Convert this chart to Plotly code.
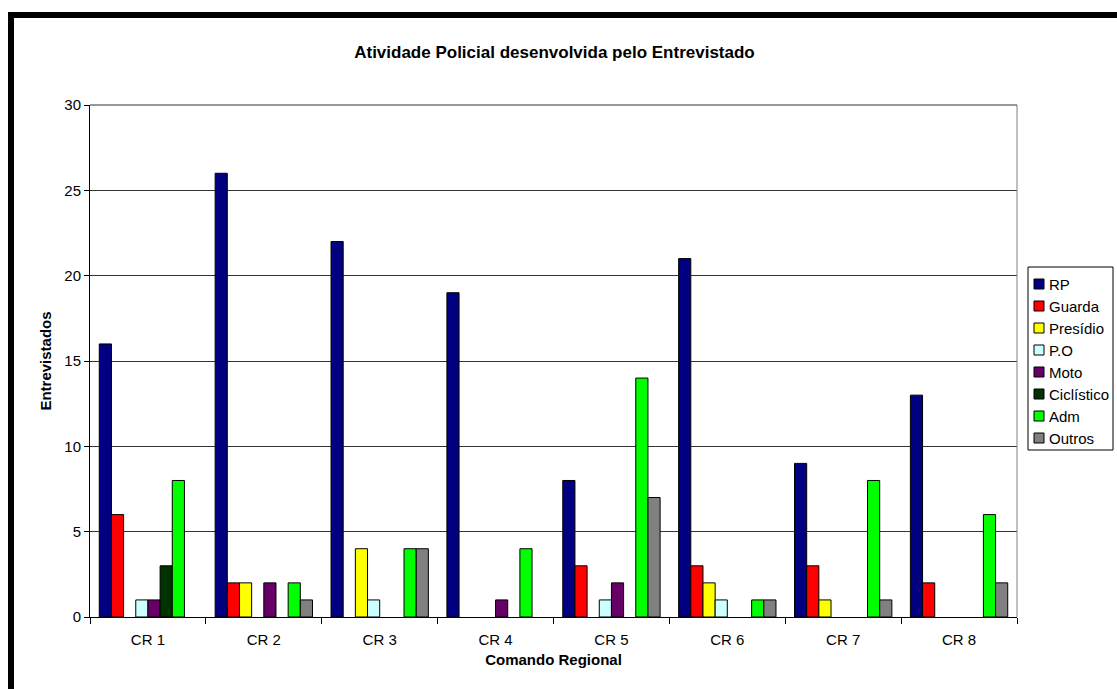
import plotly.graph_objects as go

categories = ["CR 1", "CR 2", "CR 3", "CR 4", "CR 5", "CR 6", "CR 7", "CR 8"]
series_names = ["RP", "Guarda", "Presídio", "P.O", "Moto", "Ciclístico", "Adm", "Outros"]
rp = [16, 26, 22, 19, 8, 21, 9, 13]
guarda = [6, 2, 0, 0, 3, 3, 3, 2]
presidio = [0, 2, 4, 0, 0, 2, 1, 0]
po = [1, 0, 1, 0, 1, 1, 0, 0]
moto = [1, 2, 0, 1, 2, 0, 0, 0]
ciclistico = [3, 0, 0, 0, 0, 0, 0, 0]
adm = [8, 2, 4, 4, 14, 1, 8, 6]
outros = [0, 1, 4, 0, 7, 1, 1, 2]
colors = ["#000080", "#FF0000", "#FFFF00", "#CCFFFF", "#660066", "#003300", "#00FF00", "#808080"]
y_ticks = [0, 5, 10, 15, 20, 25, 30]

series_values = [rp, guarda, presidio, po, moto, ciclistico, adm, outros]

W, H = 1117, 689
L, R, T, B = 90, 1017, 105, 617


def px_x(x):
    return (x - L) / (R - L)


def px_y(y):
    return (B - y) / (B - T)


fig = go.Figure()
for name, vals, col in zip(series_names, series_values, colors):
    fig.add_trace(go.Bar(
        x=categories, y=[v if v != 0 else None for v in vals], name=name,
        marker=dict(color=col, line=dict(color="#000000", width=1)),
        showlegend=False,
    ))

font_family = "Liberation Sans, Arial, sans-serif"

shapes = [
    dict(type="line", xref="paper", yref="paper", x0=1, x1=1, y0=0, y1=1,
         line=dict(color="#808080", width=1)),
    dict(type="line", xref="paper", yref="paper", x0=0, x1=1, y0=1, y1=1,
         line=dict(color="#333333", width=1)),
    # outer chart frame (left and top)
    dict(type="line", xref="paper", yref="paper", x0=px_x(11), x1=px_x(11),
         y0=px_y(H + 5), y1=px_y(12), line=dict(color="#000000", width=6)),
    dict(type="line", xref="paper", yref="paper", x0=px_x(8), x1=px_x(W + 5),
         y0=px_y(15), y1=px_y(15), line=dict(color="#000000", width=6)),
    # legend box
    dict(type="rect", xref="paper", yref="paper", x0=px_x(1028), x1=px_x(1113),
         y0=px_y(450), y1=px_y(267), line=dict(color="#000000", width=1),
         fillcolor="white", layer="above"),
]
annotations = []
for i, (name, col) in enumerate(zip(series_names, colors)):
    cy = 284 + 22 * i
    shapes.append(dict(type="rect", xref="paper", yref="paper",
                       x0=px_x(1034), x1=px_x(1044), y0=px_y(cy + 5), y1=px_y(cy - 5),
                       line=dict(color="#000000", width=1), fillcolor=col, layer="above"))
    annotations.append(dict(xref="paper", yref="paper", x=px_x(1047), y=px_y(cy),
                            xanchor="left", yanchor="middle", text=name, showarrow=False,
                            font=dict(size=15, family=font_family, color="#000000")))

fig.update_layout(
    width=W, height=H,
    margin=dict(l=L, r=W - R, t=T, b=H - B, autoexpand=False),
    paper_bgcolor="white", plot_bgcolor="white",
    barmode="group", bargap=0.16, bargroupgap=0,
    font=dict(family=font_family, size=15, color="#000000"),
    title=dict(text="<b>Atividade Policial desenvolvida pelo Entrevistado</b>",
               x=0.4964, xanchor="center", y=1 - 52 / H, yanchor="middle",
               font=dict(size=17, family=font_family)),
    showlegend=False,
    xaxis=dict(
        showline=True, linecolor="#000000", linewidth=1,
        ticks="outside", ticklen=6, tickcolor="#000000", tickson="boundaries",
        tickfont=dict(size=15), ticklabelstandoff=9,
        title=dict(text="<b>Comando Regional</b>", font=dict(size=15), standoff=7),
    ),
    yaxis=dict(
        range=[0, 30], tickvals=y_ticks,
        showline=True, linecolor="#000000", linewidth=1,
        ticks="outside", ticklen=5, tickcolor="#000000",
        showgrid=True, gridcolor="#333333", gridwidth=1,
        zeroline=False,
        tickfont=dict(size=15),
        title=dict(text="<b>Entrevistados</b>", font=dict(size=15), standoff=9),
    ),
    shapes=shapes,
    annotations=annotations,
)

fig.write_html("out.html")
